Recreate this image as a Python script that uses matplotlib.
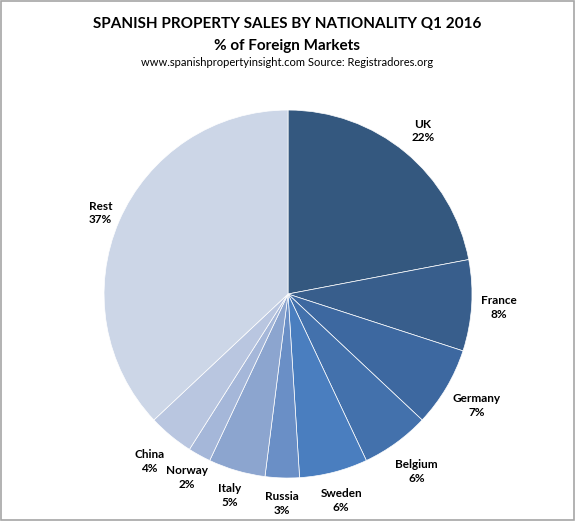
import numpy as np
import matplotlib.pyplot as plt
from matplotlib.patches import Rectangle

# shares of foreign purchases, Q1 2016
countries = ["UK", "France", "Germany", "Belgium", "Sweden", "Russia",
             "Italy", "Norway", "China", "Rest"]
shares = [22, 8, 7, 6, 6, 3, 5, 2, 4, 37]
colours = ["#34587f", "#385e8c", "#3d68a0", "#4371ac", "#4a7ebf", "#6a8fc6",
           "#8ca5cf", "#a5b7d9", "#b9c6e0", "#ccd6e7"]
label_dist = [1.15, 1.15, 1.19, 1.19, 1.16, 1.14, 1.14, 1.14, 1.18, 1.11]

plt.rcParams['font.family'] = ['Lato', 'DejaVu Sans']

def main():
    fig = plt.figure(figsize=(5.75, 5.21), dpi=100)
    fig.patches.append(Rectangle((0.001, 0.001), 0.997, 0.997, transform=fig.transFigure,
                                 fill=False, edgecolor="#a6a6a6", linewidth=1.2))

    fig.text(0.5, 0.953, "SPANISH PROPERTY SALES BY NATIONALITY Q1 2016",
             ha="center", va="center", fontsize=11, fontweight="bold")
    fig.text(0.5, 0.912, "% of Foreign Markets",
             ha="center", va="center", fontsize=11, fontweight="bold")
    fig.text(0.5, 0.880, "www.spanishpropertyinsight.com Source: Registradores.org",
             ha="center", va="center", fontsize=8.0)

    ax = fig.add_axes([0.1809, 0.0825, 0.640, 0.7063])
    wedges, texts = ax.pie(shares, colors=colours, startangle=90, counterclock=False,
                           wedgeprops=dict(edgecolor="white", linewidth=0.5))
    for w, name, s, d in zip(wedges, countries, shares, label_dist):
        ang = np.deg2rad((w.theta1 + w.theta2) / 2)
        ax.text(d * np.cos(ang), d * np.sin(ang), "%s\n%d%%" % (name, s),
                ha="center", va="center", fontsize=8.5, fontweight="bold",
                linespacing=1.3)
    ax.set_xlim(-1, 1)
    ax.set_ylim(-1, 1)
    ax.set_aspect("equal")
    ax.axis("off")

    fig.savefig("out.png", dpi=100)

main()
